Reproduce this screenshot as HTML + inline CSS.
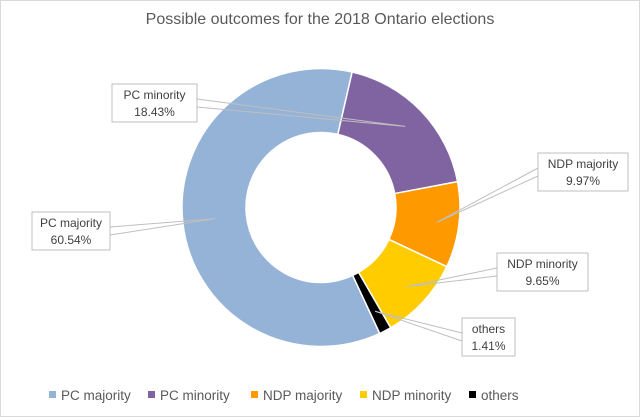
<!DOCTYPE html>
<html><head><meta charset="utf-8"><style>
body{margin:0;background:#fff;}
svg{display:block;font-family:"Liberation Sans",sans-serif;}
</style></head><body>
<svg id="chart" width="640" height="417" viewBox="0 0 640 417">
<rect x="0.5" y="0.5" width="639" height="416" fill="#fff" stroke="#d9d9d9"/>
<text x="320" y="24" text-anchor="middle" font-size="16" fill="#595959">Possible outcomes for the 2018 Ontario elections</text>
<g id="slices"></g>
<g id="labels"></g>
<g id="legend"></g>
</svg>
<script>
const categories=["PC majority","PC minority","NDP majority","NDP minority","others"];
const values=[60.54,18.43,9.97,9.65,1.41];
const colors=["#95b3d7","#8064a2","#ff9900","#ffcc00","#000000"];
const labelBoxes=[[32,212],[112,84],[538,153],[497,253],[462,318]];
const boxW=[78,85,90,91,53];
const ns="http://www.w3.org/2000/svg";
const cx=321,cy=207.5,R=139,r=75,start=155;
function pt(a,rad){const t=a*Math.PI/180;return [cx+rad*Math.sin(t),cy-rad*Math.cos(t)];}
const total=values.reduce((a,b)=>a+b,0);
let a0=start;
const sg=document.getElementById('slices'),lg=document.getElementById('labels'),leg=document.getElementById('legend');
values.forEach((v,i)=>{
  const sweep=v/total*360,a1=a0+sweep,large=sweep>180?1:0;
  const p1=pt(a0,R),p2=pt(a1,R),p3=pt(a1,r),p4=pt(a0,r);
  const p=document.createElementNS(ns,'path');
  p.setAttribute('d',`M${p1}A${R},${R} 0 ${large} 1 ${p2}L${p3}A${r},${r} 0 ${large} 0 ${p4}Z`);
  p.setAttribute('fill',colors[i]);p.setAttribute('stroke','#fff');p.setAttribute('stroke-width','1.5');
  
  
  sg.appendChild(p);
  const mid=a0+sweep/2;const m=pt(mid,(R+r)/2+(i==0?0:10));
  const [bx,by]=labelBoxes[i];const w=boxW[i];
  const ex=bx<cx?bx+w:bx,ey=by+19;
  const l=document.createElementNS(ns,'path');
  l.setAttribute('d',`M${ex},${ey-4}L${m[0]},${m[1]}L${ex},${ey+4}`);
  l.setAttribute('fill','none');l.setAttribute('stroke','#bfbfbf');l.setAttribute('stroke-width','1');
  
  
  lg.appendChild(l);
  const b=document.createElementNS(ns,'rect');
  b.setAttribute('x',bx);b.setAttribute('y',by);b.setAttribute('width',w);b.setAttribute('height',38);
  b.setAttribute('fill','#fff');b.setAttribute('stroke','#bfbfbf');
  
  
  lg.appendChild(b);
  [categories[i],v.toFixed(2)+'%'].forEach((s,k)=>{
    const t=document.createElementNS(ns,'text');
    t.setAttribute('x',bx+w/2);t.setAttribute('y',by+15+k*17);t.setAttribute('text-anchor','middle');
    t.setAttribute('font-size','12');t.setAttribute('fill','#404040');t.textContent=s;
    
    
    lg.appendChild(t);
  });
  a0=a1;
});
const legX=[49,148,251,360,469];
categories.forEach((c,i)=>{
  const s=document.createElementNS(ns,'rect');
  s.setAttribute('x',legX[i]);s.setAttribute('y',391);s.setAttribute('width',7);s.setAttribute('height',7);s.setAttribute('fill',colors[i]);
  
  
  leg.appendChild(s);
  const t=document.createElementNS(ns,'text');
  t.setAttribute('x',legX[i]+12);t.setAttribute('y',400);t.setAttribute('font-size','13.5');t.setAttribute('fill','#595959');t.textContent=c;
  
  
  leg.appendChild(t);
});
</script>
</body></html>
